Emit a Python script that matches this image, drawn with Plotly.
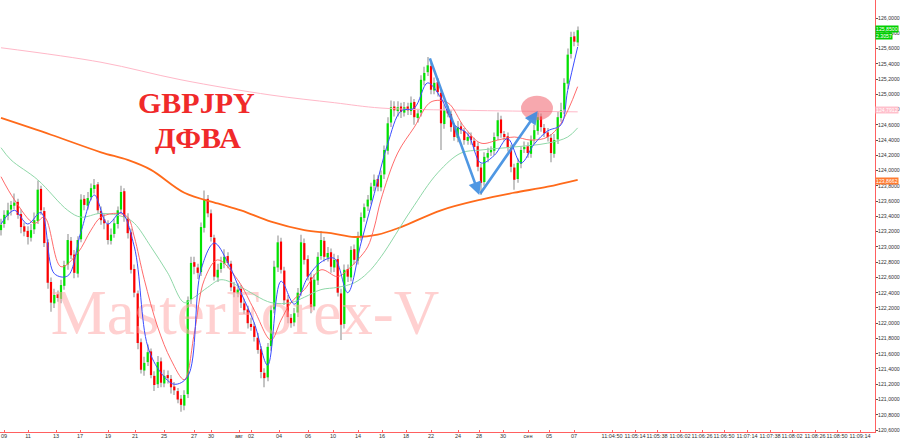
import numpy as np
import plotly.graph_objects as go

# ---------------- data ----------------
opens = [123.22,123.30,123.41,123.49,123.54,123.59,123.43,123.27,123.21,123.12,
         123.23,123.34,123.76,123.47,123.06,122.54,122.26,122.38,122.32,122.49,
         122.77,123.08,122.90,122.65,123.10,123.63,123.54,123.65,123.76,123.82,
         123.47,123.36,123.30,123.08,123.17,123.30,123.49,123.73,123.38,123.19,
         122.71,122.39,121.75,121.38,121.49,121.63,121.31,121.20,121.50,121.21,
         121.32,121.27,121.17,121.11,121.01,120.92,121.07,122.31,122.80,122.73,
         122.67,123.25,123.63,123.44,123.12,122.60,122.71,122.78,122.88,122.78,
         122.48,122.39,122.45,122.26,122.18,121.99,121.96,121.81,121.66,121.35,
         121.29,121.70,122.18,122.73,123.07,122.69,122.31,122.07,122.01,122.14,
         122.41,123.05,122.84,122.60,122.22,122.56,122.88,123.08,122.86,122.93,
         122.73,122.84,122.39,121.99,122.71,122.60,122.97,122.82,123.14,123.38,
         123.53,123.61,123.80,123.89,123.78,123.95,124.26,124.63,124.84,124.78,
         124.84,124.76,124.84,124.78,124.90,124.69,124.76,125.18,125.29,125.37,
         125.05,125.16,125.02,124.61,124.80,124.74,124.58,124.43,124.58,124.52,
         124.39,124.45,124.39,124.32,124.04,123.85,124.17,124.24,124.26,124.45,
         124.67,124.48,124.45,124.30,124.04,123.89,124.09,124.28,124.32,124.22,
         124.41,124.52,124.71,124.56,124.50,124.43,124.22,124.41,124.69,124.80,
         125.14,125.53,125.76,125.68]
highs = [123.37,123.48,123.58,123.60,123.70,123.63,123.49,123.32,123.27,123.30,
         123.45,123.87,123.80,123.52,123.10,122.60,122.45,122.43,122.57,122.82,
         123.17,123.13,122.96,123.14,123.69,123.68,123.72,123.83,123.89,123.85,
         123.53,123.44,123.35,123.24,123.37,123.53,123.80,123.77,123.44,123.24,
         122.77,122.43,121.80,121.56,121.72,121.67,121.37,121.57,121.55,121.39,
         121.38,121.32,121.23,121.15,121.06,121.12,122.35,122.87,122.87,122.78,
         123.32,123.74,123.68,123.49,123.16,122.78,122.87,122.97,122.93,122.82,
         122.54,122.52,122.50,122.32,122.23,122.07,122.01,121.87,121.70,121.41,
         121.74,122.23,122.82,123.15,123.12,122.74,122.37,122.12,122.20,122.46,
         123.16,123.11,122.89,122.66,122.64,122.93,123.21,123.13,123.00,122.98,
         122.91,122.89,122.45,122.77,122.77,123.01,123.03,123.20,123.45,123.57,
         123.68,123.84,123.95,123.94,124.00,124.33,124.70,124.92,124.91,124.91,
         124.89,124.90,124.89,124.97,124.94,124.81,125.25,125.36,125.49,125.41,
         125.22,125.21,125.07,124.87,124.85,124.79,124.62,124.65,124.63,124.56,
         124.50,124.50,124.43,124.37,124.09,124.24,124.30,124.32,124.50,124.76,
         124.72,124.52,124.50,124.34,124.09,124.16,124.32,124.38,124.37,124.46,
         124.60,124.76,124.75,124.61,124.56,124.48,124.48,124.77,124.89,125.21,
         125.60,125.82,125.82,125.89]
lows = [123.15,123.25,123.35,123.41,123.49,123.37,123.18,123.14,123.03,123.07,
        123.17,123.30,123.42,123.00,122.45,122.15,122.20,122.28,122.26,122.44,
        122.70,122.84,122.59,122.60,123.06,123.48,123.49,123.61,123.70,123.43,
        123.29,123.23,123.03,123.03,123.12,123.24,123.44,123.33,123.11,122.65,
        122.34,121.66,121.34,121.31,121.44,121.28,121.11,121.15,121.16,121.16,
        121.21,121.08,121.06,120.95,120.84,120.86,121.02,122.25,122.64,122.58,
        122.62,123.19,123.39,123.07,122.56,122.54,122.66,122.72,122.72,122.42,
        122.34,122.34,122.20,122.12,121.93,121.90,121.76,121.60,121.28,121.16,
        121.24,121.64,122.13,122.67,122.65,122.24,122.00,121.94,121.96,122.08,
        122.36,122.77,122.56,122.13,122.17,122.50,122.83,122.81,122.81,122.66,
        122.67,122.35,121.78,121.93,122.54,122.55,122.77,122.77,123.08,123.33,
        123.47,123.56,123.73,123.73,123.73,123.89,124.21,124.57,124.71,124.71,
        124.69,124.71,124.73,124.73,124.60,124.63,124.71,125.12,125.24,125.00,
        125.00,124.97,124.27,124.55,124.70,124.51,124.39,124.37,124.48,124.34,
        124.34,124.34,124.26,123.99,123.68,123.80,124.11,124.19,124.20,124.40,
        124.43,124.39,124.25,123.98,123.75,123.84,124.03,124.23,124.17,124.17,
        124.35,124.47,124.51,124.44,124.38,124.11,124.17,124.35,124.64,124.74,
        125.07,125.47,125.63,125.63]
closes = [123.29,123.42,123.48,123.55,123.58,123.42,123.26,123.20,123.13,123.22,
          123.35,123.75,123.48,123.05,122.53,122.27,122.37,122.33,122.50,122.76,
          123.09,122.89,122.66,123.09,123.62,123.55,123.64,123.77,123.81,123.48,
          123.35,123.31,123.09,123.16,123.31,123.48,123.72,123.39,123.18,122.70,
          122.40,121.74,121.39,121.48,121.62,121.32,121.19,121.49,121.22,121.31,
          121.28,121.16,121.12,121.00,120.93,121.06,122.30,122.79,122.74,122.66,
          123.26,123.62,123.44,123.13,122.61,122.70,122.79,122.87,122.79,122.47,
          122.40,122.44,122.27,122.17,122.00,121.95,121.82,121.65,121.36,121.28,
          121.69,122.17,122.74,123.06,122.70,122.30,122.08,122.00,122.13,122.40,
          123.06,122.83,122.61,122.21,122.57,122.87,123.09,122.87,122.92,122.74,
          122.83,122.40,121.98,122.70,122.61,122.96,122.83,123.13,123.39,123.52,
          123.62,123.79,123.88,123.79,123.94,124.27,124.62,124.83,124.79,124.83,
          124.77,124.83,124.79,124.89,124.70,124.75,125.19,125.28,125.38,125.06,
          125.15,125.03,124.62,124.79,124.75,124.57,124.44,124.57,124.53,124.40,
          124.44,124.40,124.31,124.05,123.84,124.18,124.23,124.27,124.44,124.66,
          124.49,124.44,124.31,124.05,123.88,124.10,124.27,124.31,124.23,124.40,
          124.53,124.70,124.57,124.49,124.44,124.23,124.40,124.70,124.79,125.15,
          125.52,125.75,125.69,125.84]

# moving averages (candle index, price)
blue_idx = [0,4,8,12,16,20,24,28,32,36,40,44,48,52,56,60,64,68,72,76,80,84,88,92,
            96,100,104,108,112,116,120,124,128,132,136,140,144,148,152,156,160,164,
            168,170,173]
blue_val = [123.30,123.48,123.30,123.45,122.65,122.62,123.20,123.68,123.30,123.45,
            123.00,121.70,121.35,121.20,121.30,122.70,123.05,122.80,122.40,122.00,
            121.45,122.55,122.25,122.60,122.80,122.85,122.40,123.05,123.70,124.35,
            124.78,124.82,125.15,124.95,124.60,124.48,124.10,124.20,124.42,124.10,
            124.35,124.52,124.60,125.05,125.62]
red_idx = [0,4,10,13,18,23,27,30,35,38,40,43,47,51,55,58,61,65,71,76,81,84,87,91,
           96,101,104,107,110,112,114,119,124,129,134,139,144,149,154,159,164,168,173]
red_val = [123.92,123.62,123.31,123.39,122.74,122.92,123.22,123.39,123.44,123.39,
           123.13,122.57,121.95,121.52,121.26,121.87,122.57,122.83,122.57,122.17,
           121.78,122.04,122.27,122.44,122.70,122.61,122.70,122.83,123.00,123.26,
           123.62,124.23,124.57,124.90,124.89,124.57,124.36,124.40,124.44,124.40,
           124.44,124.62,125.10]
green_idx = [0,3,11,20,24,30,37,40,45,50,55,58,62,66,72,81,87,91,96,101,106,110,
             114,123,131,138,144,154,164,170,173]
green_val = [124.30,124.14,123.88,123.48,123.39,123.44,123.39,123.31,123.00,122.66,
             122.27,122.34,122.47,122.57,122.47,122.27,122.27,122.34,122.44,122.47,
             122.53,122.66,122.87,123.48,123.97,124.23,124.27,124.31,124.36,124.44,
             124.56]
orange_idx = [0,15,30,38,45,55,65,72,81,91,99,106,113,120,132,144,154,164,173]
orange_val = [124.69,124.47,124.24,124.14,124.01,123.71,123.57,123.48,123.33,123.22,
              123.18,123.13,123.16,123.26,123.48,123.62,123.71,123.79,123.88]
pink_idx = [0,30,54,81,100,114,140,173]
pink_val = [125.61,125.42,125.19,124.99,124.89,124.82,124.79,124.77]

# x-axis tick labels (candle-index positions)
tick_pos = [0.9,8.1,16.5,23.7,32.1,40.2,48.9,57.9,63.0,71.4,75.0,83.4,92.1,99.6,
            107.1,114.3,121.5,129.0,137.1,143.4,150.6,158.1,164.4,171.9,
            183.3,190.2,196.8,203.7,210.3,216.9,223.8,230.7,237.3,244.2,250.8,257.7]
tick_txt = ["09","11","13","17","19","21","25","27","30","авг","02","04","06","10",
            "14","16","18","22","24","28","30","сен","05","07",
            "11:04:50","11:05:14","11:05:38","11:06:02","11:06:26","11:06:50",
            "11:07:14","11:07:38","11:08:02","11:08:26","11:08:50","11:09:14"]
y_ticks = [round(120.6 + 0.2 * k, 1) for k in range(28)]

# right-axis value labels
price_labels = [(125.85, "125,8500", "#00d000"), (125.76, "2.3057", "#00d000"),
                (124.79, "124,7912", "#ffc0cc"), (123.8662, "123,8662", "#ff7a30")]

# swing annotations (candle index, price)
swing_pts = [(128.5, 125.49), (143.5, 123.68), (161.0, 124.78)]
zone = dict(x0=156.0, x1=165.6, y0=124.66, y1=124.98)

# ---------------- figure ----------------
o = np.array(opens); h = np.array(highs); l = np.array(lows); c = np.array(closes)
idx = np.arange(len(c))
body_base = np.minimum(o, c)
body_h = np.maximum(np.abs(c - o), 0.012)
body_col = np.where(c >= o, "#00e400", "#ff0000")

fig = go.Figure()

# watermark behind everything
fig.add_trace(go.Scatter(x=[73.2], y=[122.07], mode="text", text=["MasterForex-V"],
                         textfont=dict(family="Liberation Serif", size=63,
                                       color="rgba(255,170,170,0.55)"),
                         hoverinfo="skip", showlegend=False))

fig.add_trace(go.Bar(x=idx, y=h - l, base=l, width=0.32, hoverinfo="skip",
                     marker=dict(color="#c4c4c4", line_width=0), showlegend=False))
fig.add_trace(go.Bar(x=idx, y=body_h, base=body_base, width=0.66, hoverinfo="skip",
                     marker=dict(color=body_col, line_width=0), showlegend=False))

def ma(xs, ys, color, width):
    fig.add_trace(go.Scatter(x=xs, y=ys, mode="lines",
                             line=dict(color=color, width=width, shape="spline",
                                       smoothing=1.0),
                             hoverinfo="skip", showlegend=False))

ma(pink_idx, pink_val, "#ffb8c8", 1)
ma(orange_idx, orange_val, "#ff6a1a", 1.8)
ma(green_idx, green_val, "#8fd8a8", 1)
ma(red_idx, red_val, "#ff5a5a", 0.9)
ma(blue_idx, blue_val, "#3a4cff", 1)

annotations = [
    dict(x=0.225, y=0.763, xref="paper", yref="paper", text="<b>GBPJPY</b>",
         xanchor="center", yanchor="middle",
         showarrow=False, font=dict(family="Liberation Serif", size=30, color="#f02a2a")),
    dict(x=0.226, y=0.682, xref="paper", yref="paper", text="<b>ДФВА</b>",
         xanchor="center", yanchor="middle",
         showarrow=False, font=dict(family="Liberation Serif", size=30, color="#f02a2a")),
]
for (xt, yt), (xh, yh) in zip(swing_pts[:-1], swing_pts[1:]):
    annotations.append(dict(x=xh, y=yh, ax=xt, ay=yt, xref="x", yref="y",
                            axref="x", ayref="y", showarrow=True, arrowhead=2,
                            arrowsize=1, arrowwidth=2.6, standoff=0, startstandoff=0,
                            arrowcolor="rgba(60,140,225,0.9)", text=""))
for val, txt, col in price_labels:
    annotations.append(dict(x=1, y=val, xref="paper", yref="y", xanchor="left",
                            yanchor="middle",
                            text=txt, showarrow=False, bgcolor=col, borderpad=0,
                            font=dict(family="Liberation Sans", size=5.2, color="white")))

fig.update_layout(
    width=900, height=444,
    margin=dict(l=0, r=25, t=0, b=12, autoexpand=False),
    paper_bgcolor="white", plot_bgcolor="white",
    separators=", ",
    barmode="overlay",
    showlegend=False,
    hovermode=False,
    annotations=annotations,
    shapes=[dict(type="circle", xref="x", yref="y", **zone,
                 fillcolor="rgba(242,110,120,0.6)", line_width=0, layer="above")],
    xaxis=dict(range=[-0.3, 262.2], tickmode="array", tickvals=tick_pos,
               ticktext=tick_txt, showgrid=False, zeroline=False, automargin=False,
               showline=True, linecolor="#ff6060", linewidth=1,
               ticks="inside", ticklen=2, tickcolor="#ff6060",
               ticklabelstandoff=-2, tickangle=0,
               tickfont=dict(family="Liberation Sans", size=5.5, color="#333333")),
    yaxis=dict(range=[120.574, 126.236], side="right", tickmode="array",
               tickvals=y_ticks, tickformat=".4f", showgrid=False, zeroline=False,
               automargin=False,
               showline=True, linecolor="#ff6060", linewidth=1, mirror=False,
               ticks="outside", ticklen=2, tickcolor="#555555",
               ticklabelstandoff=-1,
               tickfont=dict(family="Liberation Sans", size=5.2, color="#333333")),
)

fig.write_html("out.html", config={"displayModeBar": False},
               post_script="document.body.style.margin='0';")
